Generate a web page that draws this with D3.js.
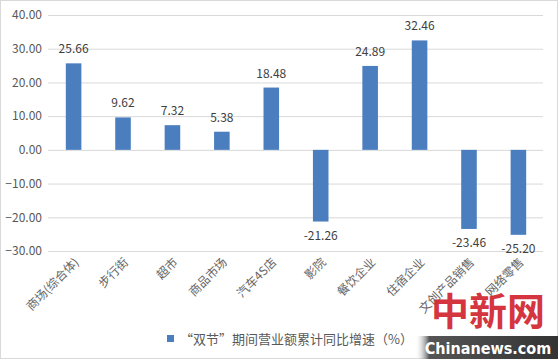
<!DOCTYPE html>
<html><head><meta charset="utf-8">
<script src="https://cdn.jsdelivr.net/npm/d3@7"></script>
<style>
html,body{margin:0;padding:0;background:#fff;}
svg{display:block;}
</style></head>
<body>
<script>
const categories = ["商场(综合体)","步行街","超市","商品市场","汽车4S店","影院","餐饮企业","住宿企业","文创产品销售","网络零售"];
const values = [25.66, 9.62, 7.32, 5.38, 18.48, -21.26, 24.89, 32.46, -23.46, -25.20];
const yTicks = [40, 30, 20, 10, 0, -10, -20, -30];
const seriesName = "“双节”期间营业额累计同比增速（%）";

const W = 558, H = 359;
const svg = d3.select("body").append("svg").attr("width", W).attr("height", H);
svg.append("rect").attr("x",0.5).attr("y",0.5).attr("width",W-1).attr("height",H-1)
  .attr("fill","#fff").attr("stroke","#d9d9d9");

const x = d3.scaleBand().domain(categories).range([49, 543]).paddingInner(0.685).paddingOuter(0.34);
const y = d3.scaleLinear().domain([-30, 40]).range([251, 15]);

const font = "'Noto Sans CJK SC','Noto Sans',sans-serif";

// gridlines + tick labels
const yAxis = d3.axisLeft(y).tickValues(yTicks).tickSize(-(543-48)).tickFormat(d => d3.format(".2f")(d));
const ga = svg.append("g").attr("transform","translate(48,0)").call(yAxis);
ga.select(".domain").remove();
ga.selectAll(".tick line").attr("stroke","#d9d9d9").attr("stroke-width",1);
ga.selectAll(".tick text").attr("x",-6).attr("fill","#595959").attr("font-size",12).attr("font-family",font);

// bars
svg.selectAll("rect.bar").data(values).enter().append("rect").attr("class","bar")
  .attr("x",(d,i)=>x(categories[i]))
  .attr("width",x.bandwidth())
  .attr("y",d=>y(Math.max(0,d)))
  .attr("height",d=>Math.abs(y(d)-y(0)))
  .attr("fill","#4a7ebf");

// data labels
svg.selectAll("text.lbl").data(values).enter().append("text").attr("class","lbl")
  .attr("x",(d,i)=>x(categories[i])+x.bandwidth()/2)
  .attr("y",d=> d>=0 ? y(d)-10 : y(d)+18)
  .attr("text-anchor","middle").attr("fill","#404040")
  .attr("font-size",12).attr("font-family",font)
  .text(d=>d.toFixed(2));

// category labels
svg.selectAll("text.cat").data(categories).enter().append("text").attr("class","cat")
  .attr("transform",(d)=>`translate(${x(d)+x.bandwidth()/2+6},${263}) rotate(-45)`)
  .attr("text-anchor","end").attr("fill","#666")
  .attr("font-size",12).attr("font-family",font)
  .text(d=>d);

// legend
svg.append("rect").attr("x",167).attr("y",335).attr("width",7).attr("height",7).attr("fill","#4a7ebf");
svg.append("text").attr("x",180).attr("y",343.5).attr("fill","#595959")
  .attr("font-size",13).attr("font-family",font).text(seriesName);

// watermark
svg.append("text").attr("x",488).attr("y",325).attr("text-anchor","middle")
  .attr("fill","#d0202a").attr("font-size",38).attr("font-weight","bold")
  .attr("font-family",font).attr("opacity",0.9).text("中新网");
const grad = svg.append("defs").append("linearGradient").attr("id","wm");
grad.append("stop").attr("offset","0%").attr("stop-color","#fff").attr("stop-opacity",0);
grad.append("stop").attr("offset","10%").attr("stop-color","#555");
grad.append("stop").attr("offset","100%").attr("stop-color","#333");
svg.append("rect").attr("x",415).attr("y",336).attr("width",143).attr("height",23).attr("fill","url(#wm)");
svg.append("text").attr("x",488).attr("y",354).attr("text-anchor","middle")
  .attr("fill","#fff").attr("font-size",16).attr("font-weight","bold")
  .attr("font-family","'DejaVu Sans Condensed','Liberation Sans Narrow',sans-serif").text("Chinanews.com");
</script>
</body></html>
